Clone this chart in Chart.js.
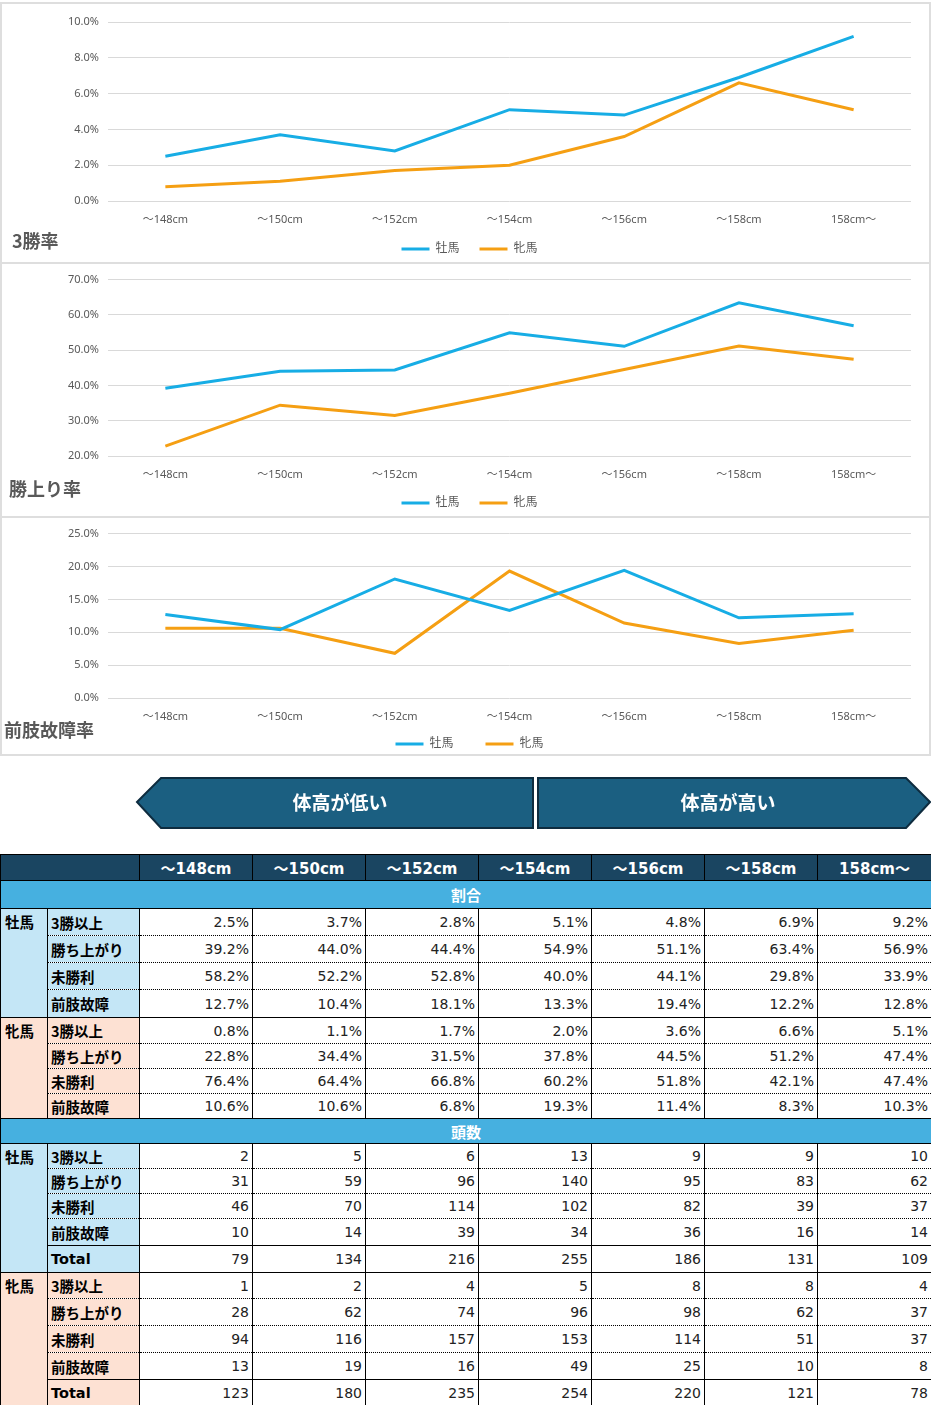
<!DOCTYPE html>
<html>
<head>
<meta charset="utf-8">
<script src="https://cdn.jsdelivr.net/npm/chart.js@4.4.1/dist/chart.umd.min.js"></script>
<style>
body{margin:0;background:#fff;width:931px;height:1405px;position:relative;overflow:hidden;font-family:"Noto Sans CJK JP",sans-serif}
.panel{position:absolute;left:0;width:931px;border:2px solid #dedede;box-sizing:border-box}
.cw{position:absolute;left:0;width:931px}
.ttl{position:absolute;font-size:18px;line-height:18px;font-weight:bold;color:#595959;white-space:nowrap}
.arrow-txt{position:absolute;top:789px;color:#fff;font-weight:bold;font-size:19px;line-height:26px;transform:translateX(-50%);white-space:nowrap}
table{position:absolute;left:0;top:854px;border-collapse:collapse;table-layout:fixed;width:931px}
td,th{padding:0;border-left:1px solid #000;border-right:1px solid #000;border-top:1px solid #000;box-sizing:border-box;overflow:hidden;white-space:nowrap}
th{background:#1a4561;color:#fff;font-family:"DejaVu Sans","Noto Sans CJK JP",sans-serif;font-size:15px;font-weight:bold;text-align:center}
td.sec{background:#46b0e0;color:#fff;font-weight:bold;font-size:15px;text-align:center}
td.grp{font-weight:bold;font-size:14.5px;vertical-align:top;padding:2px 0 0 4px;border-top:1px solid #000}
td.lab{font-weight:bold;font-size:14.5px;padding-left:3px;font-family:"DejaVu Sans","Noto Sans CJK JP",sans-serif}
td.lab.jp{font-family:"Noto Sans CJK JP",sans-serif}
td.num{text-align:right;padding-right:3px;font-family:"DejaVu Sans",sans-serif;font-size:14px;color:#222}
.m{background:#c4e6f6}
.f{background:#fde1d3}
tr.dot td.lab, tr.dot td.num{border-top:1px dotted #000}
tr:last-child td{border-bottom:1px solid #000}
</style>
</head>
<body>

<div class="panel" style="top:2px;height:262px"></div>
<div class="panel" style="top:262px;height:256px"></div>
<div class="panel" style="top:516px;height:240px"></div>

<div class="cw" style="top:3px;height:270px"><canvas id="c1"></canvas></div>
<div class="cw" style="top:264px;height:264px"><canvas id="c2"></canvas></div>
<div class="cw" style="top:518px;height:264px"><canvas id="c3"></canvas></div>

<div class="ttl" style="left:12px;top:231px">3勝率</div>
<div class="ttl" style="left:9px;top:479px">勝上り率</div>
<div class="ttl" style="left:4px;top:720px">前肢故障率</div>

<svg style="position:absolute;left:0;top:770px" width="931" height="66">
  <polygon points="137,32 161,8 533,8 533,58 161,58" fill="#1b5f81" stroke="#0e2c3f" stroke-width="2"/>
  <polygon points="538,8 906,8 930,32 906,58 538,58" fill="#1b5f81" stroke="#0e2c3f" stroke-width="2"/>
</svg>
<div class="arrow-txt" style="left:340px">体高が低い</div>
<div class="arrow-txt" style="left:728px">体高が高い</div>

<table id="tbl">
  <colgroup>
    <col style="width:47px"><col style="width:92px">
    <col style="width:113px"><col style="width:113px"><col style="width:113px"><col style="width:113px"><col style="width:113px"><col style="width:113px"><col style="width:114px">
  </colgroup>
  <tbody id="tb"></tbody>
</table>

<script>
// categories
const heights = ['～148cm', '～150cm', '～152cm', '～154cm', '～156cm', '～158cm', '158cm～'];
const rowLabels = ['3勝以上', '勝ち上がり', '未勝利', '前肢故障'];

// ratios (%)
const maleWin3 = [2.5, 3.7, 2.8, 5.1, 4.8, 6.9, 9.2];
const maleWinUp = [39.2, 44.0, 44.4, 54.9, 51.1, 63.4, 56.9];
const maleNoWin = [58.2, 52.2, 52.8, 40.0, 44.1, 29.8, 33.9];
const maleInjury = [12.7, 10.4, 18.1, 13.3, 19.4, 12.2, 12.8];
const femaleWin3 = [0.8, 1.1, 1.7, 2.0, 3.6, 6.6, 5.1];
const femaleWinUp = [22.8, 34.4, 31.5, 37.8, 44.5, 51.2, 47.4];
const femaleNoWin = [76.4, 64.4, 66.8, 60.2, 51.8, 42.1, 47.4];
const femaleInjury = [10.6, 10.6, 6.8, 19.3, 11.4, 8.3, 10.3];

// head counts
const maleCnt3 = [2, 5, 6, 13, 9, 9, 10];
const maleCntUp = [31, 59, 96, 140, 95, 83, 62];
const maleCntNo = [46, 70, 114, 102, 82, 39, 37];
const maleCntInj = [10, 14, 39, 34, 36, 16, 14];
const maleTotal = [79, 134, 216, 255, 186, 131, 109];
const femaleCnt3 = [1, 2, 4, 5, 8, 8, 4];
const femaleCntUp = [28, 62, 74, 96, 98, 62, 37];
const femaleCntNo = [94, 116, 157, 153, 114, 51, 37];
const femaleCntInj = [13, 19, 16, 49, 25, 10, 8];
const femaleTotal = [123, 180, 235, 254, 220, 121, 78];

const BLUE = '#17ade5';
const ORANGE = '#f59f13';
const GREY = '#595959';

Chart.defaults.font.family = '"Noto Sans", "Noto Sans CJK JP", sans-serif';

// move the legend row to a given centre line, spanning the whole canvas width
const legendPlace = {
  id: 'legendPlace',
  afterLayout(chart, args, opts) {
    const lg = chart.legend;
    const pad = lg.options.labels.padding;
    const dy = opts.center - (lg.top + pad + 6);
    lg.top += dy;
    lg.bottom += dy;
    lg.left = opts.shift;
    lg.right = chart.width + opts.shift;
  }
};

function makeChart(id, male, female, min, max, step, opt) {
  new Chart(document.getElementById(id), {
    type: 'line',
    data: {
      labels: heights,
      datasets: [
        {label: '牡馬', data: male, borderColor: BLUE, backgroundColor: BLUE, borderWidth: 3, pointRadius: 0, tension: 0},
        {label: '牝馬', data: female, borderColor: ORANGE, backgroundColor: ORANGE, borderWidth: 3, pointRadius: 0, tension: 0}
      ]
    },
    plugins: [legendPlace],
    options: {
      responsive: true,
      maintainAspectRatio: false,
      animation: false,
      layout: {padding: {top: opt.top, right: 20, left: 0, bottom: 0}},
      plugins: {
        tooltip: {enabled: false},
        legendPlace: {center: opt.legendY, shift: 4},
        legend: {
          position: 'bottom',
          labels: {
            boxWidth: 28,
            boxHeight: 3,
            padding: opt.legendPad,
            color: GREY,
            font: {size: 12},
            generateLabels(chart) {
              const items = Chart.defaults.plugins.legend.labels.generateLabels(chart);
              items.forEach(i => { i.lineWidth = 0; });
              return items;
            }
          }
        }
      },
      scales: {
        x: {
          offset: true,
          grid: {display: false, drawTicks: false, offset: true},
          border: {display: false},
          ticks: {padding: 12, color: GREY, font: {size: 11}},
          afterFit(s) { s.height = 30; }
        },
        y: {
          min: min,
          max: max,
          grid: {color: '#d9d9d9', drawTicks: false},
          border: {display: false},
          ticks: {stepSize: step, padding: 9, color: GREY, font: {size: 11}, callback: v => v.toFixed(1) + '%'},
          afterFit(s) { s.width = 108; }
        }
      }
    }
  });
}

makeChart('c1', maleWin3, femaleWin3, 0, 10, 2, {top: 19, legendPad: 20, legendY: 246});
makeChart('c2', maleWinUp, femaleWinUp, 20, 70, 10, {top: 15, legendPad: 20, legendY: 239});
makeChart('c3', maleInjury, femaleInjury, 0, 25, 5, {top: 14, legendPad: 32, legendY: 226});

// table
const tb = document.getElementById('tb');
function addRow(html, h, cls) {
  const tr = document.createElement('tr');
  if (cls) tr.className = cls;
  tr.style.height = h + 'px';
  tr.innerHTML = html;
  tb.appendChild(tr);
}
const pct = v => v.toFixed(1) + '%';
const cnt = v => String(v);

addRow('<th colspan="2"></th>' + heights.map(h => '<th>' + h + '</th>').join(''), 26);

function addGroup(name, cls, rows, labels, fmt, hs) {
  rows.forEach((vals, i) => {
    let html = '';
    if (i === 0) html += '<td class="grp ' + cls + '" rowspan="' + rows.length + '">' + name + '</td>';
    const lab = labels[i];
    html += '<td class="lab ' + cls + (lab === 'Total' ? '' : ' jp') + '">' + lab + '</td>';
    html += vals.map(v => '<td class="num">' + fmt(v) + '</td>').join('');
    const dotted = i > 0 && lab !== 'Total';
    addRow(html, hs[i], dotted ? 'dot' : '');
  });
}

addRow('<td class="sec" colspan="9">割合</td>', 28);
addGroup('牡馬', 'm', [maleWin3, maleWinUp, maleNoWin, maleInjury], rowLabels, pct, [27, 27, 27, 28]);
addGroup('牝馬', 'f', [femaleWin3, femaleWinUp, femaleNoWin, femaleInjury], rowLabels, pct, [26, 25, 25, 25]);
addRow('<td class="sec" colspan="9">頭数</td>', 25);
addGroup('牡馬', 'm', [maleCnt3, maleCntUp, maleCntNo, maleCntInj, maleTotal], rowLabels.concat(['Total']), cnt, [25, 25, 25, 27, 27]);
addGroup('牝馬', 'f', [femaleCnt3, femaleCntUp, femaleCntNo, femaleCntInj, femaleTotal], rowLabels.concat(['Total']), cnt, [26, 27, 27, 27, 26]);
</script>
</body>
</html>
